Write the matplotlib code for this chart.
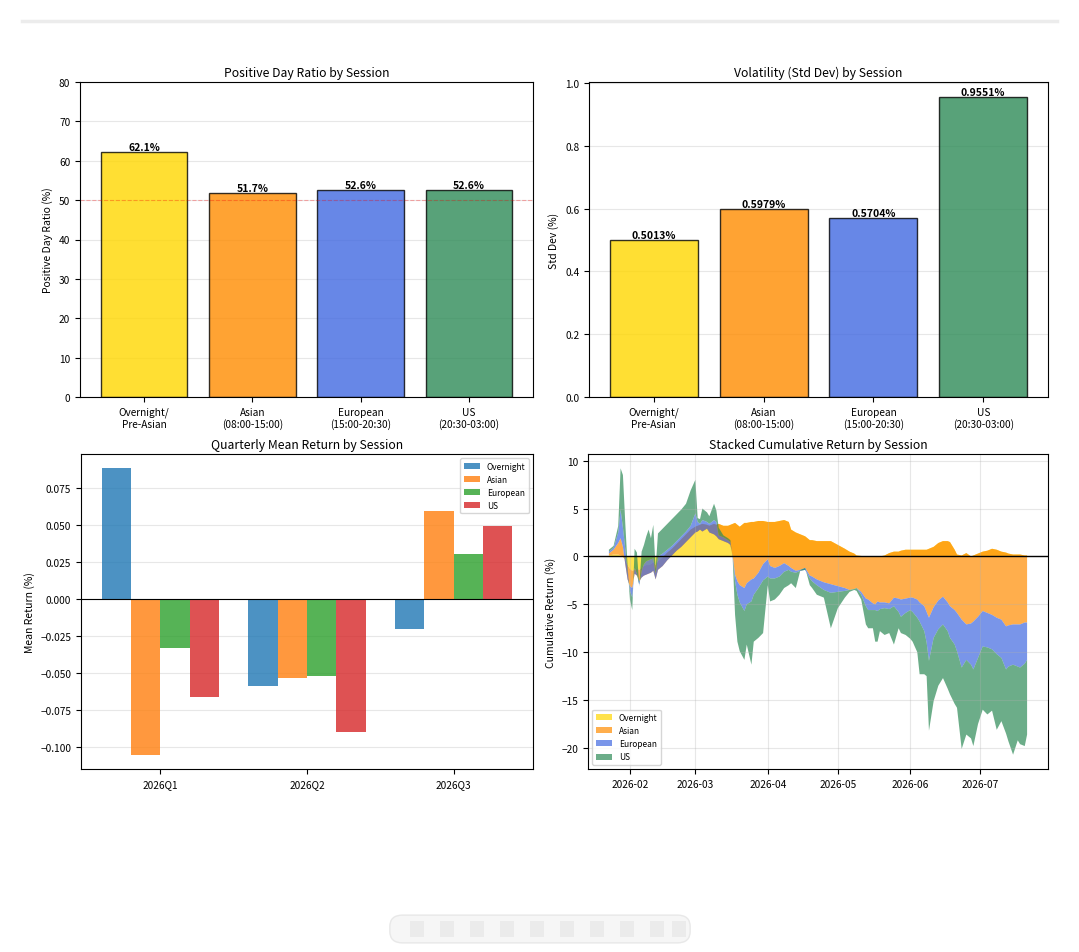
import matplotlib
matplotlib.use('Agg')
import matplotlib.pyplot as plt
import matplotlib.dates as mdates
import numpy as np
import pandas as pd
from matplotlib.lines import Line2D
from matplotlib.patches import FancyBboxPatch, Rectangle

plt.rcParams['font.family'] = ['Noto Sans CJK SC', 'DejaVu Sans']

# ---------------- data ----------------
session_labels = ['Overnight/\nPre-Asian', 'Asian\n(08:00-15:00)',
                  'European\n(15:00-20:30)', 'US\n(20:30-03:00)']
session_names = ['Overnight', 'Asian', 'European', 'US']
positive_ratio = [62.1, 51.7, 52.6, 52.6]
volatility = [0.5013, 0.5979, 0.5704, 0.9551]

quarters = ['2026Q1', '2026Q2', '2026Q3']
q_overnight = [0.088, -0.059, -0.020]
q_asian = [-0.105, -0.053, 0.059]
q_european = [-0.033, -0.052, 0.030]
q_us = [-0.066, -0.090, 0.049]

dates = ['2026-01-23', '2026-01-25', '2026-01-27', '2026-01-28', '2026-01-29', '2026-01-30', '2026-01-31',
         '2026-02-01', '2026-02-02', '2026-02-03', '2026-02-04', '2026-02-05', '2026-02-06', '2026-02-07',
         '2026-02-08', '2026-02-09', '2026-02-10', '2026-02-11', '2026-02-12', '2026-02-13', '2026-02-15',
         '2026-02-17', '2026-02-19', '2026-02-21', '2026-02-23', '2026-02-25', '2026-02-27',
         '2026-03-01', '2026-03-02', '2026-03-03', '2026-03-04', '2026-03-06', '2026-03-07', '2026-03-09',
         '2026-03-10', '2026-03-11', '2026-03-13', '2026-03-15', '2026-03-16', '2026-03-17', '2026-03-18',
         '2026-03-19', '2026-03-20', '2026-03-22', '2026-03-23', '2026-03-25', '2026-03-26', '2026-03-28',
         '2026-03-30',
         '2026-04-01', '2026-04-02', '2026-04-04', '2026-04-06', '2026-04-08', '2026-04-10', '2026-04-11',
         '2026-04-13', '2026-04-15', '2026-04-17', '2026-04-19', '2026-04-20', '2026-04-22', '2026-04-25',
         '2026-04-28',
         '2026-05-01', '2026-05-04', '2026-05-06', '2026-05-08', '2026-05-09', '2026-05-11', '2026-05-13',
         '2026-05-14', '2026-05-16', '2026-05-17', '2026-05-18', '2026-05-19', '2026-05-21', '2026-05-23',
         '2026-05-25', '2026-05-27', '2026-05-28', '2026-05-30',
         '2026-06-01', '2026-06-02', '2026-06-04', '2026-06-05', '2026-06-07', '2026-06-08', '2026-06-09',
         '2026-06-11', '2026-06-13', '2026-06-15', '2026-06-17', '2026-06-18', '2026-06-20', '2026-06-21',
         '2026-06-23', '2026-06-25', '2026-06-27', '2026-06-28', '2026-06-30',
         '2026-07-02', '2026-07-04', '2026-07-06', '2026-07-08', '2026-07-10', '2026-07-12', '2026-07-13',
         '2026-07-15', '2026-07-17', '2026-07-18', '2026-07-20', '2026-07-21']

cum_overnight = [0.1, 0.2, 0.2, 0.1, 0.0, -0.4, -0.9, -1.3, -1.5, -1.4, -1.3, -1.4, -1.2, -1.0, -0.9, -0.9,
                 -0.8, -0.6, -0.9, -0.5, -0.1, 0.4, 0.8, 1.3, 1.8, 2.3, 2.8,
                 3.1, 3.2, 3.3, 3.4, 3.3, 3.2, 3.4, 3.3, 3.4, 3.2, 3.2, 3.3, 3.4, 3.5, 3.3, 3.1, 3.5, 3.5,
                 3.6, 3.6, 3.7, 3.7,
                 3.6, 3.6, 3.6, 3.7, 3.8, 3.6, 2.8, 2.5, 2.3, 2.1, 1.7, 1.7, 1.6, 1.6, 1.6,
                 1.2, 0.8, 0.5, 0.3, 0.1, 0.05, 0.0, 0.0, 0.0, 0.0, 0.0, 0.0, 0.1, 0.35, 0.5, 0.5, 0.6, 0.7,
                 0.7, 0.7, 0.7, 0.7, 0.7, 0.7, 0.8, 1.0, 1.4, 1.6, 1.6, 1.5, 0.7, 0.2, 0.1, 0.35, 0.0, 0.1,
                 0.3,
                 0.5, 0.6, 0.8, 0.7, 0.5, 0.4, 0.3, 0.2, 0.2, 0.2, 0.1, 0.1]
cum_asian = [0.2, 0.5, 1.2, 1.8, 1.0, -0.4, -1.5, -1.8, -1.8, -0.4, -0.7, -1.2, -1.0, -1.0, -1.0, -0.9,
             -0.9, -0.9, -1.5, -0.9, -0.9, -0.8, -0.7, -0.7, -0.8, -0.8, -0.8,
             -0.6, -0.6, -0.5, -0.8, -0.4, -0.7, -1.1, -1.2, -1.6, -1.6, -1.8, -2.1, -3.4, -5.4, -5.9,
             -6.1, -6.8, -6.3, -6.0, -5.9, -5.4, -4.5,
             -3.9, -4.6, -4.8, -4.7, -4.5, -4.6, -4.0, -4.0, -3.7, -3.3, -3.7, -3.8, -4.0, -4.3, -4.5,
             -4.3, -4.1, -4.0, -3.7, -3.4, -3.75, -4.4, -4.5, -4.9, -5.0, -4.7, -4.8, -4.9, -5.25, -4.8,
             -4.9, -5.1, -5.1,
             -5.0, -5.0, -5.2, -5.5, -5.9, -6.5, -7.2, -6.3, -6.0, -5.8, -6.4, -6.7, -6.3, -6.1, -6.7,
             -7.45, -7.0, -6.9, -6.6,
             -6.2, -6.5, -6.9, -7.1, -7.1, -7.7, -7.5, -7.3, -7.3, -7.3, -7.0, -7.0]
cum_european = [0.2, 0.2, 1.1, 3.0, 2.0, 1.6, 0.9, -0.5, -1.0, 0.6, 0.2, -0.4, 0.7, 1.2, 1.4, 1.4, 1.4,
                1.3, 0.6, 1.4, 1.3, 1.1, 1.0, 1.0, 1.1, 1.1, 1.2,
                2.0, 1.0, 0.6, 1.2, 0.7, 0.9, 1.5, 1.5, 0.4, 0.4, 0.3, 0.3, -0.2, -0.7, -1.4, -1.8, -2.4,
                -2.2, -2.3, -1.7, -1.6, -1.7,
                -1.8, -1.3, -1.1, -1.1, -0.9, -0.4, -0.4, -0.2, -0.1, -0.2, -0.3, -0.5, -0.6, -0.8, -0.9,
                -0.6, -0.3, 0.0, 0.0, 0.0, -0.3, -0.8, -1.1, -0.7, -0.6, -1.0, -0.7, -0.6, -0.6, -0.9,
                -1.4, -1.8, -1.5,
                -1.3, -1.5, -1.9, -2.0, -2.6, -3.2, -4.5, -3.2, -3.0, -2.9, -3.0, -3.3, -3.6, -4.0, -5.0,
                -3.7, -4.3, -5.0, -4.3,
                -3.7, -3.6, -3.6, -3.8, -4.0, -4.5, -4.3, -4.2, -4.4, -4.5, -4.3, -3.9]
cum_us = [0.2, 0.2, 0.7, 4.3, 5.5, 2.7, 0.5, -0.9, -1.3, 2.0, 2.2, -0.1, 2.0, 2.0, 2.6, 3.2, 2.2, 3.5,
          0.5, 2.4, 2.6, 2.7, 2.8, 2.8, 2.8, 2.9, 3.7,
          3.5, 0.4, 0.5, 1.2, 1.0, 0.8, 1.7, 1.2, 0.8, 0.2, 0.2, 0.2, -0.1, -3.5, -4.9, -5.1, -5.1,
          -4.2, -6.6, -4.9, -5.2, -5.5,
          -0.9, -2.4, -2.2, -1.9, -1.7, -1.6, -1.2, -1.6, 0.1, 0.2, -0.7, -0.7, -1.0, -0.8, -3.7,
          -1.7, -0.7, -0.2, -0.1, -0.3, -0.5, -1.9, -1.9, -1.9, -3.3, -3.2, -2.3, -2.8, -2.5, -4.0,
          -1.7, -1.7, -2.3,
          -3.0, -3.1, -3.6, -5.5, -4.5, -3.5, -7.3, -6.6, -5.9, -5.6, -6.0, -5.9, -6.2, -5.9, -8.5,
          -7.8, -7.7, -8.0, -6.9,
          -6.6, -7.0, -6.4, -7.9, -6.6, -6.7, -7.8, -9.4, -7.7, -8.0, -8.6, -7.8]

# ---------------- styling ----------------
bar_colors = ['gold', 'darkorange', 'royalblue', 'seagreen']
q_colors = ['#1f77b4', '#ff7f0e', '#2ca02c', '#d62728']
TITLE_FS = 8.8
TICK_FS = 7.3
LABEL_FS = 7.5

W, H = 1079, 953
fig = plt.figure(figsize=(W / 100, H / 100), dpi=100)
fig.patch.set_facecolor('white')


def rect(l, t, r, b):
    return [l / W, 1 - b / H, (r - l) / W, (b - t) / H]


ax1 = fig.add_axes(rect(80, 83, 533, 398))
ax2 = fig.add_axes(rect(589, 83, 1048, 398))
ax3 = fig.add_axes(rect(81, 455, 533, 770))
ax4 = fig.add_axes(rect(588, 455, 1048, 770))

# --- Positive day ratio ---
x = np.arange(len(session_labels))
bars = ax1.bar(x, positive_ratio, color=bar_colors, alpha=0.8, edgecolor='black', linewidth=1)
ax1.axhline(50, color='red', linestyle='--', alpha=0.3, linewidth=0.8)
for b, v in zip(bars, positive_ratio):
    ax1.text(b.get_x() + b.get_width() / 2, v, f'{v:.1f}%', ha='center', va='bottom',
             fontsize=LABEL_FS, fontweight='bold')
ax1.set_xticks(x)
ax1.set_xticklabels(session_labels, fontsize=TICK_FS)
ax1.set_ylim(0, 80)
ax1.set_ylabel('Positive Day Ratio (%)', fontsize=LABEL_FS)
ax1.set_title('Positive Day Ratio by Session', fontsize=TITLE_FS, pad=4)
ax1.grid(axis='y', alpha=0.3)
ax1.set_axisbelow(True)

# --- Volatility ---
bars = ax2.bar(x, volatility, color=bar_colors, alpha=0.8, edgecolor='black', linewidth=1)
for b, v in zip(bars, volatility):
    ax2.text(b.get_x() + b.get_width() / 2, v, f'{v:.4f}%', ha='center', va='bottom',
             fontsize=LABEL_FS, fontweight='bold')
ax2.set_xticks(x)
ax2.set_xticklabels(session_labels, fontsize=TICK_FS)
ax2.set_ylim(0, 1.003)
ax2.set_ylabel('Std Dev (%)', fontsize=LABEL_FS)
ax2.set_title('Volatility (Std Dev) by Session', fontsize=TITLE_FS, pad=4)
ax2.grid(axis='y', alpha=0.3)
ax2.set_axisbelow(True)

# --- Quarterly mean return ---
xq = np.arange(len(quarters))
w = 0.2
for i, (vals, c, name) in enumerate(zip([q_overnight, q_asian, q_european, q_us], q_colors, session_names)):
    ax3.bar(xq + (i - 1.5) * w, vals, width=w, color=c, alpha=0.8, label=name)
ax3.axhline(0, color='black', linewidth=0.8)
ax3.set_xticks(xq)
ax3.set_xticklabels(quarters, fontsize=TICK_FS)
ax3.set_ylabel('Mean Return (%)', fontsize=LABEL_FS)
ax3.set_title('Quarterly Mean Return by Session', fontsize=TITLE_FS, pad=4)
ax3.grid(axis='y', alpha=0.3)
ax3.set_axisbelow(True)
ax3.legend(loc='upper right', fontsize=6)

# --- Stacked cumulative return ---
dts = pd.to_datetime(dates)
ax4.stackplot(dts, cum_overnight, cum_asian, cum_european, cum_us,
              labels=session_names, colors=bar_colors, alpha=0.7)
ax4.axhline(0, color='black', linewidth=1)
ax4.set_ylabel('Cumulative Return (%)', fontsize=LABEL_FS)
ax4.set_title('Stacked Cumulative Return by Session', fontsize=TITLE_FS, pad=4)
ax4.grid(alpha=0.3)
ax4.legend(loc='lower left', fontsize=6)
ax4.xaxis.set_major_locator(mdates.MonthLocator())
ax4.xaxis.set_major_formatter(mdates.DateFormatter('%Y-%m'))

for ax in (ax1, ax2, ax3, ax4):
    ax.tick_params(labelsize=TICK_FS)

# --- page decorations (screenshot frame) ---
fig.add_artist(Line2D([22 / W, 1057 / W], [1 - 22 / H, 1 - 22 / H], color='#ececec', linewidth=2.5))
fig.add_artist(FancyBboxPatch((392 / W, 1 - 942 / H), 296 / W, 24 / H,
                              boxstyle='round,pad=0.002,rounding_size=0.012',
                              facecolor='#f6f6f6', edgecolor='#e8e8e8', linewidth=1))
for bx in [410, 440, 470, 500, 530, 560, 590, 620, 650, 672]:
    fig.add_artist(Rectangle((bx / W, 1 - 938 / H), 14 / W, 16 / H, facecolor='#ebebeb',
                             edgecolor='none'))

fig.savefig('out.png', dpi=100)
